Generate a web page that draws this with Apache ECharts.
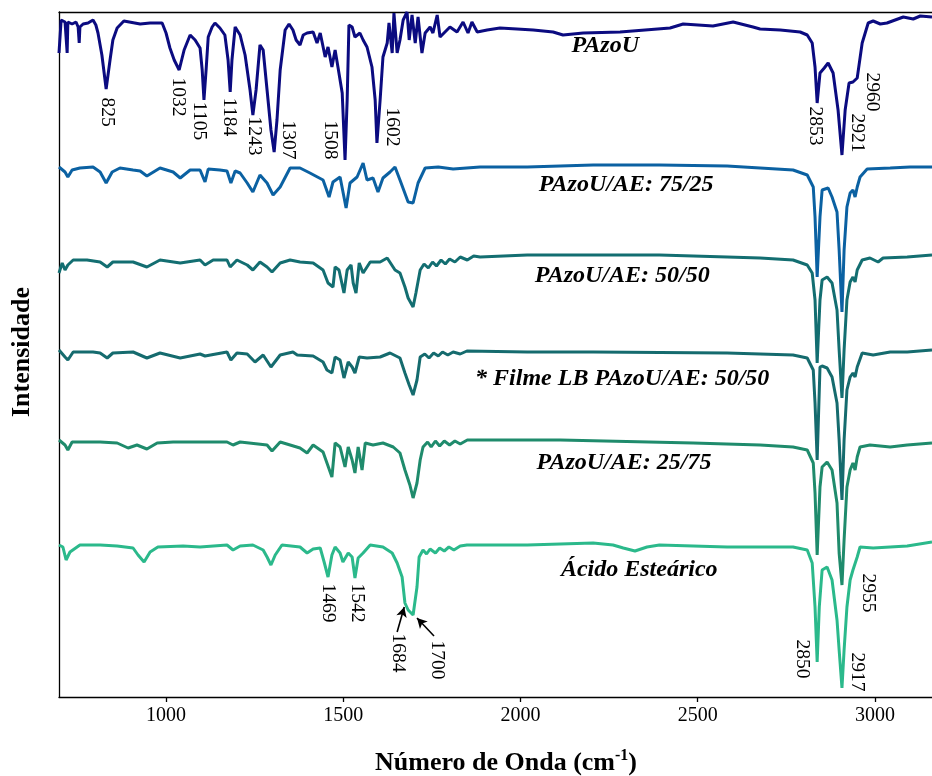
<!DOCTYPE html>
<html><head><meta charset="utf-8">
<script src="https://cdn.jsdelivr.net/npm/echarts@6/dist/echarts.min.js"></script>
<style>html,body{margin:0;padding:0;background:#fff}#c{width:932px;height:776px}</style>
</head><body><div id="c"></div>
<script>
// ---- data (wavenumber cm-1, stacked intensity a.u.) ----
const xTicks = [1000, 1500, 2000, 2500, 3000];
const seriesNames = ['PAzoU', 'PAzoU/AE: 75/25', 'PAzoU/AE: 50/50', '* Filme LB PAzoU/AE: 50/50', 'PAzoU/AE: 25/75', 'Ácido Esteárico'];

const pazou = [[698,644],[704,677],[709,675],[715,675],[721,644],[723,675],[735,673],[746,675],[752,670],[755,654],[757,670],[766,673],[780,674],[794,677],[802,672],[808,664],[819,642],[831,608],[842,637],[850,657],[862,669],[881,676],[927,673],[955,674],[989,674],[1000,664],[1011,649],[1023,637],[1037,627],[1051,647],[1068,662],[1082,657],[1096,649],[1102,627],[1107,597],[1113,627],[1119,660],[1130,670],[1138,674],[1152,669],[1166,662],[1175,637],[1181,605],[1186,637],[1195,670],[1209,662],[1223,642],[1237,607],[1245,582],[1254,607],[1265,652],[1274,647],[1285,607],[1296,567],[1305,545],[1313,577],[1322,627],[1336,667],[1347,673],[1358,667],[1367,657],[1378,652],[1387,662],[1398,664],[1415,665],[1426,654],[1435,664],[1449,640],[1457,650],[1468,630],[1477,647],[1485,630],[1497,604],[1505,537],[1511,597],[1516,672],[1525,670],[1533,660],[1547,664],[1556,657],[1567,650],[1581,630],[1590,597],[1595,554],[1604,597],[1612,640],[1624,654],[1629,674],[1638,644],[1643,684],[1652,644],[1660,657],[1669,677],[1680,685],[1686,657],[1694,682],[1703,654],[1711,680],[1722,644],[1731,664],[1745,670],[1753,664],[1765,682],[1773,660],[1787,665],[1801,670],[1821,665],[1838,675],[1852,664],[1863,675],[1878,665],[1906,667],[1942,669],[1990,668],[2036,667],[2092,665],[2120,662],[2177,664],[2281,665],[2422,669],[2459,673],[2543,671],[2600,675],[2656,670],[2676,668],[2733,667],[2789,665],[2809,662],[2823,654],[2831,630],[2837,594],[2845,624],[2857,629],[2868,634],[2882,624],[2896,587],[2907,542],[2916,587],[2927,614],[2938,615],[2950,619],[2964,654],[2981,674],[2995,676],[3015,673],[3034,674],[3080,680],[3108,678],[3128,681],[3161,680]];

const ae7525 = [[698,530],[715,525],[723,520],[735,527],[757,529],[794,530],[814,525],[831,514],[848,525],[870,529],[907,527],[927,526],[946,521],[983,529],[1020,525],[1040,519],[1068,527],[1096,527],[1110,515],[1119,528],[1152,527],[1172,526],[1183,514],[1195,526],[1209,524],[1229,514],[1245,505],[1265,522],[1285,514],[1302,502],[1322,510],[1350,529],[1378,529],[1406,524],[1443,517],[1460,500],[1471,515],[1491,520],[1508,489],[1519,514],[1539,520],[1556,534],[1567,517],[1584,519],[1598,505],[1612,519],[1632,525],[1646,530],[1660,517],[1683,495],[1697,494],[1711,514],[1731,529],[1768,530],[1810,528],[1886,530],[2019,530],[2205,532],[2392,532],[2583,531],[2676,529],[2769,527],[2809,522],[2826,510],[2831,480],[2837,420],[2845,480],[2851,507],[2868,509],[2879,500],[2893,485],[2899,447],[2907,385],[2913,447],[2921,490],[2930,504],[2938,507],[2944,500],[2950,510],[2958,520],[2978,528],[3043,529],[3099,530],[3161,530]];

const ae5050 = [[698,424],[707,434],[715,427],[723,432],[738,437],[777,437],[814,435],[834,430],[850,435],[907,435],[946,430],[983,437],[1040,434],[1096,437],[1110,432],[1133,437],[1172,437],[1181,430],[1200,437],[1229,432],[1245,427],[1265,435],[1285,430],[1299,425],[1322,434],[1350,437],[1378,435],[1415,434],[1443,427],[1457,414],[1471,410],[1477,430],[1488,427],[1502,404],[1511,427],[1522,432],[1528,414],[1536,404],[1545,434],[1556,424],[1576,435],[1604,435],[1624,439],[1646,427],[1660,424],[1674,410],[1683,399],[1697,390],[1705,404],[1717,427],[1728,433],[1740,429],[1752,435],[1763,431],[1776,437],[1788,433],[1800,438],[1815,435],[1830,440],[1850,437],[1868,441],[1886,440],[2019,442],[2392,442],[2583,440],[2676,439],[2769,437],[2809,432],[2823,424],[2831,397],[2837,334],[2845,397],[2851,417],[2865,420],[2879,414],[2893,387],[2899,347],[2907,299],[2913,347],[2921,397],[2930,415],[2938,420],[2944,415],[2950,427],[2964,437],[2986,439],[3009,435],[3023,439],[3091,440],[3161,442]];

const filmeLB = [[698,347],[715,340],[723,337],[738,345],[794,345],[814,344],[834,339],[850,344],[907,345],[946,339],[983,344],[1040,339],[1096,343],[1110,341],[1172,345],[1183,337],[1200,344],[1229,343],[1251,335],[1274,342],[1296,330],[1322,342],[1358,345],[1370,342],[1415,341],[1443,335],[1454,327],[1468,324],[1477,340],[1491,337],[1502,319],[1514,335],[1525,330],[1533,324],[1545,340],[1567,339],[1604,340],[1632,344],[1660,339],[1674,324],[1686,312],[1697,302],[1708,317],[1717,340],[1730,343],[1742,339],[1755,344],[1768,341],[1780,345],[1795,342],[1810,345],[1830,343],[1849,346],[2019,345],[2205,345],[2583,344],[2769,342],[2809,339],[2826,327],[2831,294],[2837,237],[2845,330],[2851,331],[2865,329],[2879,320],[2893,294],[2899,257],[2907,197],[2913,257],[2921,307],[2930,320],[2938,324],[2944,320],[2950,330],[2964,344],[2995,342],[3043,345],[3091,345],[3161,347]];

const ae2575 = [[698,257],[715,252],[723,247],[735,255],[814,255],[862,254],[893,249],[918,252],[946,248],[975,254],[1020,255],[1096,255],[1172,255],[1189,252],[1209,255],[1285,252],[1299,246],[1322,255],[1350,252],[1378,249],[1398,244],[1415,252],[1443,245],[1454,234],[1468,220],[1477,254],[1491,250],[1505,230],[1514,250],[1525,237],[1533,224],[1542,250],[1553,227],[1562,254],[1584,252],[1612,254],[1641,250],[1660,244],[1674,227],[1688,212],[1697,199],[1708,214],[1717,237],[1725,250],[1738,255],[1748,250],[1760,256],[1772,251],[1785,256],[1800,252],[1815,256],[1830,253],[1850,257],[1886,257],[2112,257],[2487,254],[2676,252],[2769,250],[2809,247],[2826,234],[2831,204],[2837,142],[2845,210],[2851,230],[2865,235],[2879,227],[2893,194],[2899,144],[2907,112],[2913,157],[2921,210],[2930,227],[2938,234],[2944,227],[2950,240],[2958,250],[2986,252],[3043,250],[3091,252],[3161,254]];

const acidoEstearico = [[698,152],[709,150],[718,137],[729,145],[757,152],[814,152],[862,151],[907,149],[921,142],[938,135],[955,145],[977,150],[1048,151],[1096,150],[1172,152],[1189,147],[1209,151],[1245,152],[1274,147],[1285,140],[1296,132],[1308,142],[1327,152],[1378,150],[1398,144],[1415,148],[1435,149],[1446,135],[1457,120],[1468,142],[1477,150],[1491,144],[1499,135],[1514,144],[1525,140],[1533,119],[1542,139],[1556,144],[1576,152],[1612,150],[1638,144],[1652,134],[1666,120],[1674,94],[1683,87],[1697,82],[1708,110],[1714,140],[1725,147],[1735,143],[1745,148],[1760,144],[1772,149],[1785,146],[1798,150],[1812,147],[1830,151],[1849,152],[2019,152],[2205,154],[2261,152],[2290,149],[2323,146],[2357,150],[2392,152],[2583,150],[2769,150],[2809,147],[2823,134],[2831,90],[2837,35],[2843,90],[2851,127],[2865,130],[2879,117],[2893,77],[2899,47],[2907,9],[2913,47],[2921,90],[2930,117],[2938,127],[2950,140],[2958,150],[2995,149],[3043,150],[3091,151],[3161,155]];

const spectra = [pazou, ae7525, ae5050, filmeLB, ae2575, acidoEstearico];

// peak labels: text and anchor (wavenumber, intensity)
const peakText = ['825','1032','1105','1184','1243','1307','1508','1602','2853','2921','2960','1469','1542','1684','1700','2850','2917','2955'];
const peakAt = [[833,585],[1034,600],[1093,576],[1178,580],[1248,561],[1344,557],[1463,557],[1638,570],[2831,571],[2950,564],[2992,605],[1457,94],[1539,94],[1655,44],[1765,37],[2795,38],[2950,25],[2981,104]];
const nameAt = [[2239,651],[2298,512],[2287,421],[2287,318],[2292,234],[2335,127]];
const arrows = [[[1652,65],[1672,90]],[[1756,61],[1708,79]]];

// ---- styles ----
const colors = ['#0b0b80','#0b61a2','#136e71','#156b6e','#1f8b6c','#2bb98b'];
const FONT = '"Liberation Serif","Times New Roman",serif';
const X_MIN = 698, X_MAX = 3161;

const chart = echarts.init(document.getElementById('c'), null, {renderer: 'canvas'});

const series = spectra.map((d, i) => ({
  type: 'line', name: seriesNames[i], data: d, showSymbol: false, symbol: 'none',
  lineStyle: {color: colors[i], width: 3}, itemStyle: {color: colors[i]},
  clip: true, z: 2 + i, animation: false
}));
series[5].markLine = {
  silent: true, symbol: ['none', 'arrow'], symbolSize: [8, 10],
  lineStyle: {color: '#000', width: 1.6, type: 'solid'}, label: {show: false},
  data: arrows.map(a => [{coord: a[0]}, {coord: a[1]}])
};

chart.setOption({
  animation: false,
  backgroundColor: '#fff',
  grid: {left: 59, right: 0, top: 12, bottom: 79},
  xAxis: [{
    type: 'value', min: X_MIN, max: X_MAX, position: 'bottom',
    axisLine: {show: true, lineStyle: {color: '#000', width: 1.3}},
    axisTick: {show: true, customValues: xTicks, length: 5, inside: false, lineStyle: {color: '#000', width: 1.3}},
    axisLabel: {show: true, customValues: xTicks, formatter: v => String(v), color: '#000', fontFamily: FONT, fontSize: 20, margin: 9},
    splitLine: {show: false}
  }, {
    type: 'value', min: X_MIN, max: X_MAX, position: 'top',
    axisLine: {show: true, lineStyle: {color: '#000', width: 1.3}},
    axisTick: {show: false}, axisLabel: {show: false}, splitLine: {show: false}
  }],
  yAxis: {
    type: 'value', min: 0, max: 685,
    axisLine: {show: true, lineStyle: {color: '#000', width: 1.3}},
    axisTick: {show: false}, axisLabel: {show: false}, splitLine: {show: false}
  },
  series: series
});

const P = v => chart.convertToPixel({seriesIndex: 0}, v);
const graphics = [];
peakText.forEach((t, i) => {
  const p = P(peakAt[i]);
  graphics.push({type: 'text', x: p[0], y: p[1], rotation: -Math.PI / 2, z: 50,
    style: {text: t, fill: '#000', font: '19.5px ' + FONT, align: 'center', verticalAlign: 'middle'}});
});
seriesNames.forEach((t, i) => {
  const p = P(nameAt[i]);
  graphics.push({type: 'text', x: p[0], y: p[1], z: 50,
    style: {text: t, fill: '#000', font: 'italic bold 24px ' + FONT, align: 'center', verticalAlign: 'middle'}});
});
graphics.push({type: 'text', x: 22, y: 352, rotation: Math.PI / 2, z: 50,
  style: {text: 'Intensidade', fill: '#000', font: 'bold 26px ' + FONT, align: 'center', verticalAlign: 'middle'}});
graphics.push({type: 'text', x: 506, y: 763, z: 50,
  style: {text: '{b|Número de Onda (cm}{s|-1}{b|)}', align: 'center', verticalAlign: 'middle',
    rich: {b: {font: 'bold 26px ' + FONT, fill: '#000', lineHeight: 30}, s: {font: 'bold 16px ' + FONT, fill: '#000', verticalAlign: 'top', lineHeight: 30, padding: [0, 0, 12, 0]}}}});
chart.setOption({graphic: graphics});
</script>
</body></html>
